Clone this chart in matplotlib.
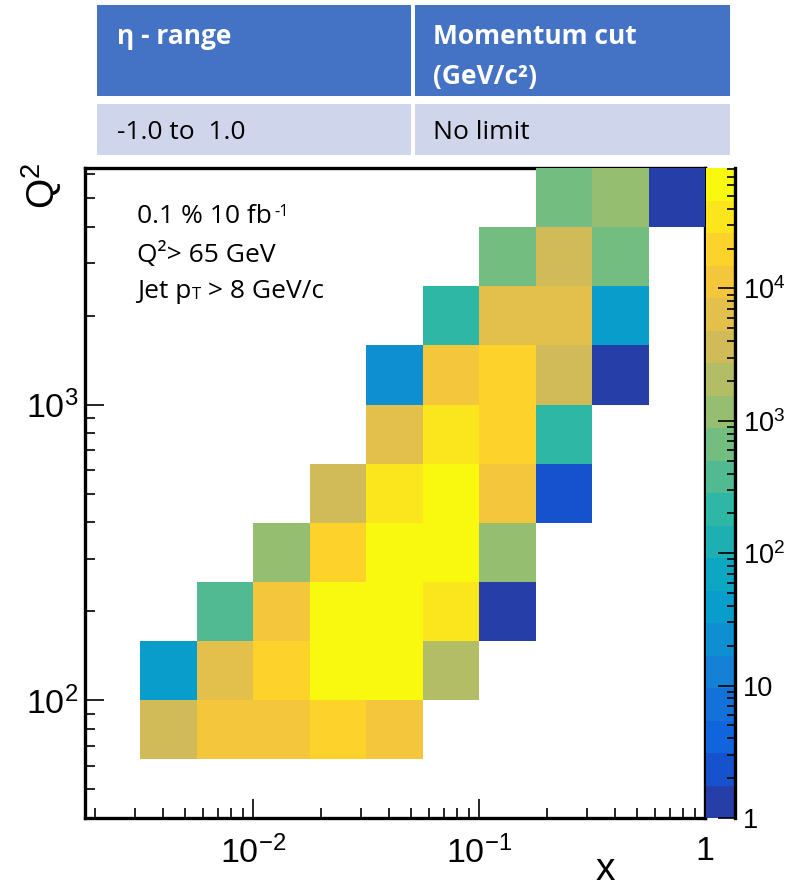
import numpy as np
import matplotlib
matplotlib.use("Agg")
import matplotlib.pyplot as plt
import matplotlib.ticker as mticker
from matplotlib.colors import ListedColormap, LogNorm
from matplotlib.patches import Rectangle

plt.rcParams.update({
    "font.family": ["Liberation Sans", "DejaVu Sans"],
    "mathtext.fontset": "custom",
    "mathtext.rm": "Liberation Sans",
    "mathtext.it": "Liberation Sans:italic",
    "mathtext.bf": "Liberation Sans:bold",
    "mathtext.default": "regular",
})

# ---- binning: log10 of the bin edges -------------------------------------
log_x_edges = np.linspace(-2.5, 0.0, 11)     # Bjorken x
log_q2_edges = np.linspace(1.8, 3.8, 11)     # Q^2 [GeV^2]

# ---- event counts per Q^2 bin (low -> high), x bins left -> right --------
q2_bin_0 = [3630, 11200, 11500, 19800, 10900, None, None, None, None, None]
q2_bin_1 = [40, 6400, 20500, 70000, 65000, 2060, None, None, None, None]
q2_bin_2 = [None, 380, 11000, 81300, 76000, 34800, 1, None, None, None]
q2_bin_3 = [None, None, 1170, 19500, 62000, 58000, 1150, None, None, None]
q2_bin_4 = [None, None, None, 3600, 35000, 52000, 11300, 2, None, None]
q2_bin_5 = [None, None, None, None, 6300, 34000, 19600, 215, None, None]
q2_bin_6 = [None, None, None, None, 22, 11000, 19900, 3650, 1, None]
q2_bin_7 = [None, None, None, None, None, 210, 6350, 6450, 40, None]
q2_bin_8 = [None, None, None, None, None, None, 660, 3620, 670, None]
q2_bin_9 = [None, None, None, None, None, None, None, 665, 1180, 1]

rows = [q2_bin_0, q2_bin_1, q2_bin_2, q2_bin_3, q2_bin_4,
        q2_bin_5, q2_bin_6, q2_bin_7, q2_bin_8, q2_bin_9]
counts = np.array([[np.nan if v is None else v for v in r] for r in rows], float)
counts = np.ma.masked_invalid(counts)

# ---- ROOT kBird palette, 255 colours, sampled onto 20 contour levels -----
bird_stops = np.linspace(0.0, 1.0, 9)
bird_red = [0.2082, 0.0592, 0.0780, 0.0232, 0.1802, 0.5301, 0.8186, 0.9956, 0.9764]
bird_green = [0.1664, 0.3599, 0.5041, 0.6419, 0.7178, 0.7492, 0.7328, 0.7862, 0.9832]
bird_blue = [0.5293, 0.8684, 0.8385, 0.7914, 0.6425, 0.4662, 0.3499, 0.1968, 0.0539]


def gradient_table(stops, red, green, blue, ncolors=255):
    cols = []
    for k in range(1, len(stops)):
        n = int(np.floor(ncolors * stops[k]) - np.floor(ncolors * stops[k - 1]))
        for c in range(n):
            f = c / n
            cols.append((red[k - 1] + f * (red[k] - red[k - 1]),
                         green[k - 1] + f * (green[k] - green[k - 1]),
                         blue[k - 1] + f * (blue[k] - blue[k - 1])))
    return cols


palette = gradient_table(bird_stops, bird_red, bird_green, bird_blue)
n_levels = 20
level_colors = [palette[int((i + 0.99) * len(palette) / n_levels)] for i in range(n_levels)]
cmap = ListedColormap(level_colors)
norm = LogNorm(vmin=1, vmax=counts.max())

# ---- figure -----------------------------------------------------------------
W, H = 785, 888
fig = plt.figure(figsize=(W / 100, H / 100), dpi=100)

ax = fig.add_axes([85 / W, 70 / H, 620 / W, 650 / H])
mesh = ax.pcolormesh(10 ** log_x_edges, 10 ** log_q2_edges, counts,
                     cmap=cmap, norm=norm, zorder=3, edgecolors="none")
ax.set_xscale("log")
ax.set_yscale("log")
ax.set_xlim(1.8e-3, 1.0)
ax.set_ylim(40, 10 ** 3.8)


def root_log_label(v, pos):
    e = int(round(np.log10(v)))
    if e == 0:
        return "1"
    if e == 1:
        return "10"
    return rf"$10^{{{e}}}$"


for axis in (ax.xaxis, ax.yaxis):
    axis.set_major_locator(mticker.LogLocator(base=10, numticks=12))
    axis.set_minor_locator(mticker.LogLocator(base=10, subs=np.arange(2, 10), numticks=12))
    axis.set_major_formatter(mticker.FuncFormatter(root_log_label))
    axis.set_minor_formatter(mticker.NullFormatter())

for side, sp in ax.spines.items():
    sp.set_linewidth(2.4)
    sp.set_color("black")
ax.tick_params(which="both", direction="in", top=False, right=False,
               width=1.2, labelsize=24.5, colors="black")
ax.tick_params(which="major", length=13.5)
ax.tick_params(which="minor", length=7)
ax.tick_params(axis="x", pad=13)
ax.tick_params(axis="y", pad=5)

# colour scale
cax = fig.add_axes([706 / W, 70 / H, 29 / W, 650 / H])
cb = fig.colorbar(mesh, cax=cax)
cb.outline.set_visible(False)
cax.spines["right"].set_visible(True)
cax.spines["right"].set_linewidth(2.4)
cax.yaxis.set_major_formatter(mticker.FuncFormatter(root_log_label))
cax.yaxis.set_minor_locator(mticker.LogLocator(base=10, subs=np.arange(2, 10), numticks=20))
cax.yaxis.set_minor_formatter(mticker.NullFormatter())
cax.tick_params(which="both", direction="in", right=True, left=False,
                labelright=True, labelleft=False, width=1.2, labelsize=19.5, pad=6)
cax.tick_params(which="major", length=12)
cax.tick_params(which="minor", length=6)

# axis titles
fig.text(605 / W, 1 - 870 / H, "x", ha="center", va="center", fontsize=28)
fig.text(42 / W, 1 - 163 / H, "$Q^{2}$", rotation=90, ha="center", va="top", fontsize=28)

# selection notes
note_font = ["Open Sans", "DejaVu Sans"]
nx = (137 - 85) / 620
t1 = ax.text(nx, (818 - 223) / 650, "0.1 % 10 fb", transform=ax.transAxes,
             fontsize=19, family=note_font, va="baseline", zorder=5)
ax.annotate("-1", xy=(1, 1), xycoords=t1, xytext=(1.5, 0), textcoords="offset points",
            fontsize=12, family=note_font, va="top", ha="left")
ax.text(nx, (818 - 262) / 650, "Q\u00b2> 65 GeV", transform=ax.transAxes,
        fontsize=19, family=note_font, va="baseline", zorder=5)
t3 = ax.text(nx, (818 - 298) / 650, "Jet p", transform=ax.transAxes,
             fontsize=19, family=note_font, va="baseline", zorder=5)
tT = ax.annotate("T", xy=(1, 0), xycoords=t3, xytext=(0.5, 0.5), textcoords="offset points",
                 fontsize=12, family=note_font, va="bottom", ha="left")
ax.annotate(" > 8 GeV/c", xy=(1, 0), xycoords=(tT, t3), xytext=(0, 0),
            textcoords="offset points", fontsize=19, family=note_font,
            va="bottom", ha="left")

# selection table
tax = fig.add_axes([0, 1 - 160 / H, 1, 160 / H])
tax.set_xlim(0, W)
tax.set_ylim(160, 0)
tax.axis("off")
header_blue = "#4472c4"
body_lavender = "#cfd5ea"
tax.add_patch(Rectangle((97, 5), 314, 91, color=header_blue, lw=0))
tax.add_patch(Rectangle((415, 5), 315, 91, color=header_blue, lw=0))
tax.add_patch(Rectangle((97, 104), 314, 51, color=body_lavender, lw=0))
tax.add_patch(Rectangle((415, 104), 315, 51, color=body_lavender, lw=0))

tax.text(117, 44, "\u03b7 - range", color="white", fontweight="bold",
         fontsize=19, family=note_font, va="baseline")
tax.text(433, 44, "Momentum cut", color="white", fontweight="bold",
         fontsize=19, family=note_font, va="baseline")
tax.text(433, 84, "(GeV/c\u00b2)", color="white", fontweight="bold",
         fontsize=19, family=note_font, va="baseline")
tax.text(117, 139, "-1.0 to  1.0", color="black", fontsize=19,
         family=note_font, va="baseline")
tax.text(433, 139, "No limit", color="black", fontsize=19,
         family=note_font, va="baseline")

fig.savefig("out.png", dpi=100)
